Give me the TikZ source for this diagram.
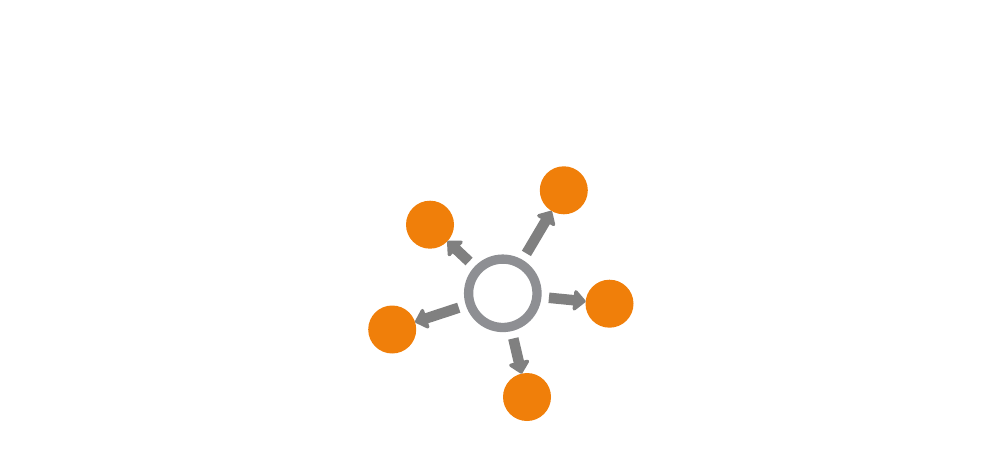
\documentclass[tikz,border=0pt]{standalone}
\usetikzlibrary{arrows.meta}
\definecolor{ringgray}{HTML}{8E8F93}
\definecolor{arrowgray}{HTML}{808080}
\definecolor{dotorange}{HTML}{F07F0A}
\begin{document}
\begin{tikzpicture}[x=1pt,y=-1pt,
  ring/.style={circle,draw=ringgray,line width=9.3pt,minimum size=68.4pt,inner sep=0pt,outer sep=4.65pt},
  dot/.style={circle,fill=dotorange,minimum size=48pt,inner sep=0pt,outer sep=0pt},
  spoke/.style={draw=arrowgray,line width=10.5pt,shorten <=7.5pt,
    -{Triangle[length=13pt,width=24pt,round=false]}}]
\useasboundingbox (0,0) rectangle (1000,454);
\node[ring] (c) at (502.8,293.3) {};
\node[dot] (tr) at (563.8,190.3) {};
\node[dot] (tl) at (430,224.7) {};
\node[dot] (r) at (609.5,303.7) {};
\node[dot] (l) at (392.2,329.5) {};
\node[dot] (b) at (527,397) {};
\draw[spoke] (c) -- (tr);
\draw[spoke] (c) -- (tl);
\draw[spoke] (c) -- (r);
\draw[spoke] (c) -- (l);
\draw[spoke] (c) -- (b);
\end{tikzpicture}
\end{document}
